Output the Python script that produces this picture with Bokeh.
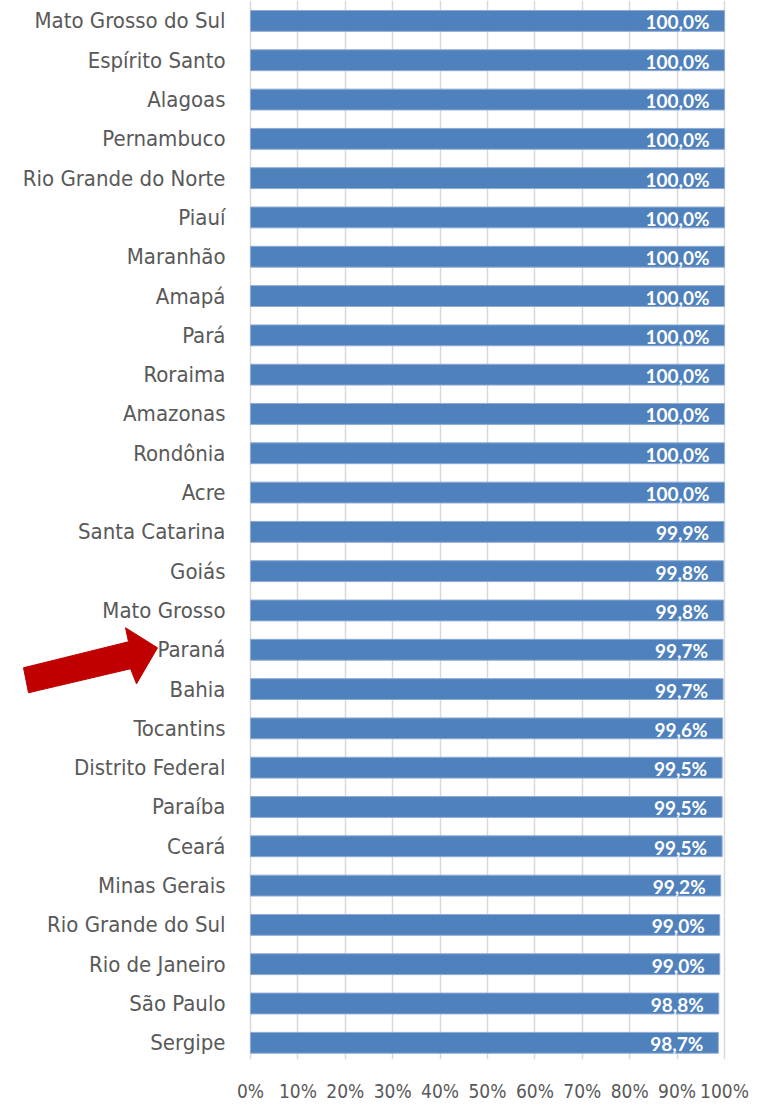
from bokeh.plotting import figure
from bokeh.models import ColumnDataSource, Range1d, FixedTicker
from bokeh.core.properties import value
from bokeh.embed import file_html
from bokeh.resources import INLINE

# ---- data ----
states = ["Mato Grosso do Sul", "Espírito Santo", "Alagoas", "Pernambuco",
          "Rio Grande do Norte", "Piauí", "Maranhão", "Amapá", "Pará", "Roraima",
          "Amazonas", "Rondônia", "Acre", "Santa Catarina", "Goiás", "Mato Grosso",
          "Paraná", "Bahia", "Tocantins", "Distrito Federal", "Paraíba", "Ceará",
          "Minas Gerais", "Rio Grande do Sul", "Rio de Janeiro", "São Paulo", "Sergipe"]
values = [100.0, 100.0, 100.0, 100.0, 100.0, 100.0, 100.0, 100.0, 100.0, 100.0,
          100.0, 100.0, 100.0, 99.9, 99.8, 99.8, 99.7, 99.7, 99.6, 99.5, 99.5, 99.5,
          99.2, 99.0, 99.0, 98.8, 98.7]
tick_values = [0, 10, 20, 30, 40, 50, 60, 70, 80, 90, 100]
tick_labels = ["0%", "10%", "20%", "30%", "40%", "50%", "60%", "70%", "80%", "90%", "100%"]
highlight = "Paraná"

n = len(states)
ypos = [n - 1 - i for i in range(n)]
value_labels = [("%.1f%%" % v).replace(".", ",") for v in values]

src = ColumnDataSource(dict(state=states, val=values, y=ypos, lab=value_labels,
                            zero=[0] * n))

NARROW = "'Liberation Sans Narrow', 'DejaVu Sans Condensed', 'Roboto Condensed', 'Arial Narrow', Roboto, sans-serif"

W, H = 777, 1104
PX_PER_X = 4.74   # px per percentage point
X0_PX = 250       # canvas px of 0%
PX_PER_Y = 39.3
p = figure(width=W, height=H, output_backend="svg", toolbar_location=None,
           x_range=Range1d(-X0_PX / PX_PER_X, (W - X0_PX) / PX_PER_X),
           y_range=Range1d(-0.425, n - 1 + 0.52),
           min_border_left=0, min_border_right=0, min_border_top=0, min_border_bottom=0)
p.outline_line_color = None
p.background_fill_color = "white"
p.border_fill_color = "white"

p.yaxis.visible = False
p.ygrid.visible = False

p.xaxis.ticker = FixedTicker(ticks=tick_values)
p.xaxis.major_label_overrides = {t: l for t, l in zip(tick_values, tick_labels)}
p.xaxis.bounds = (0, 100)
p.xaxis.axis_line_color = None
p.xaxis.major_tick_line_color = None
p.xaxis.minor_tick_line_color = None
p.xaxis.major_tick_out = 0
p.xaxis.major_tick_in = 0
p.xaxis.major_label_standoff = 20
p.xaxis.major_label_text_font = NARROW
p.xaxis.major_label_text_font_size = "19px"
p.xaxis.major_label_text_color = "#595959"

p.xgrid.ticker = FixedTicker(ticks=tick_values)
p.xgrid.bounds = (0, 100)
p.xgrid.grid_line_color = "#d9d9d9"
p.xgrid.grid_line_width = 1.5

p.hbar(y="y", left="zero", right="val", height=0.53, source=src,
       fill_color="#4f81bd", line_color="#8eaad6", line_width=1)

p.text(x="zero", y="y", text="state", source=src, x_offset=-25,
       text_align="right", text_baseline="middle",
       text_font=value(NARROW), text_font_size="22px",
       text_color="#595959")

p.text(x="val", y="y", text="lab", source=src, x_offset=-15, y_offset=1,
       text_align="right", text_baseline="middle",
       text_font=value("Lato"), text_font_style="bold", text_font_size="19px",
       text_color="white")

# ---- arrow pointing to highlighted state label ----
hy = ypos[states.index(highlight)]
# arrow shape in pixel offsets from the tip (dx right, dy down)
arrow_px = [(0, -2), (-32, -22), (-29, -8), (-134, 18), (-129, 43), (-27, 19), (-21, 34)]
ax = [-(X0_PX - 157) / PX_PER_X + dx / PX_PER_X for dx, dy in arrow_px]
ay = [hy - dy / PX_PER_Y for dx, dy in arrow_px]
p.patch(ax, ay, fill_color="#c00000", line_color="#c00000", line_width=1)

open("out.html", "w").write(file_html(p, INLINE))
